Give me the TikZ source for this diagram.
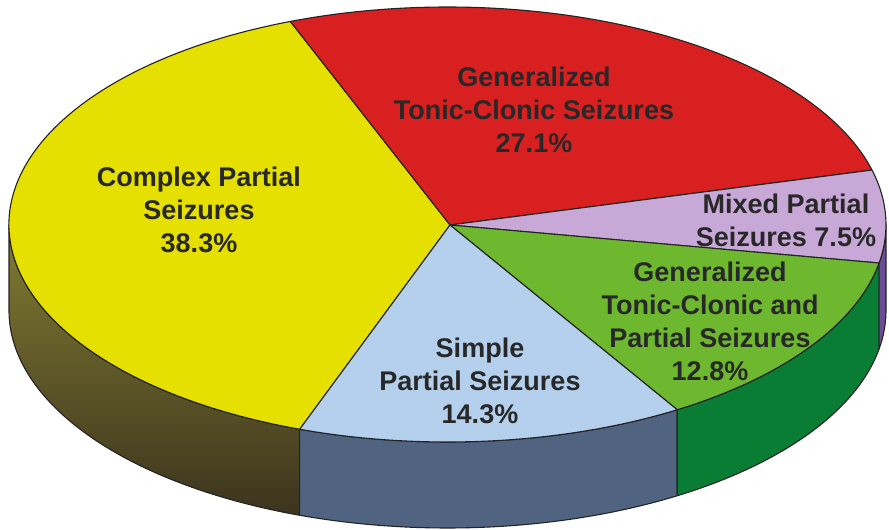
\documentclass[tikz,border=0pt]{standalone}
\usepackage{fontspec}
\setmainfont{Liberation Sans}
\definecolor{cyel}{RGB}{230,224,0}
\definecolor{cred}{RGB}{216,32,32}
\definecolor{cpur}{RGB}{200,168,214}
\definecolor{cgrn}{RGB}{110,184,48}
\definecolor{cblu}{RGB}{180,208,236}
\definecolor{sblu}{RGB}{80,100,130}
\definecolor{sgrn}{RGB}{10,125,52}
\definecolor{spur}{RGB}{108,76,150}
\definecolor{oliveT}{RGB}{130,124,50}
\definecolor{oliveB}{RGB}{60,52,30}
\definecolor{txt}{RGB}{40,40,40}
\definecolor{edgec}{RGB}{35,35,35}
\begin{document}
\begin{tikzpicture}[x=1pt,y=1pt,
  edge/.style={draw=edgec, line width=1.1pt, line join=round},
  lbl/.style={font=\fontsize{27}{33}\selectfont\bfseries, text=txt, align=center, inner sep=0pt}]
\useasboundingbox (0,0) rectangle (889,530);
\def\cx{447.5}\def\cy{305.5}\def\rx{438.5}\def\ry{217.5}\def\dd{86}
\coordinate (O) at (450,305);
\coordinate (L) at ({\cx-\rx},\cy);
\coordinate (R) at ({\cx+\rx},\cy);
\coordinate (t1) at ({\cx+\rx*cos(111)},{\cy+\ry*sin(111)});
\coordinate (t2) at ({\cx+\rx*cos(14.5)},{\cy+\ry*sin(14.5)});
\coordinate (t3) at ({\cx+\rx*cos(-10.2)},{\cy+\ry*sin(-10.2)});
\coordinate (t4) at ({\cx+\rx*cos(-58.4)},{\cy+\ry*sin(-58.4)});
\coordinate (t5) at ({\cx+\rx*cos(-109.7)},{\cy+\ry*sin(-109.7)});
% sides
\shade[top color=oliveT, bottom color=oliveB]
  (L) arc[start angle=180,end angle=250.3,x radius=\rx,y radius=\ry]
  -- ++(0,-\dd) arc[start angle=250.3,end angle=180,x radius=\rx,y radius=\ry] -- cycle;
\draw[edge]
  (L) arc[start angle=180,end angle=250.3,x radius=\rx,y radius=\ry]
  -- ++(0,-\dd) arc[start angle=250.3,end angle=180,x radius=\rx,y radius=\ry] -- cycle;
\filldraw[edge, fill=sblu]
  (t5) arc[start angle=250.3,end angle=301.6,x radius=\rx,y radius=\ry]
  -- ++(0,-\dd) arc[start angle=301.6,end angle=250.3,x radius=\rx,y radius=\ry] -- cycle;
\filldraw[edge, fill=sgrn]
  (t4) arc[start angle=301.6,end angle=349.8,x radius=\rx,y radius=\ry]
  -- ++(0,-\dd) arc[start angle=349.8,end angle=301.6,x radius=\rx,y radius=\ry] -- cycle;
\filldraw[edge, fill=spur]
  (t3) arc[start angle=349.8,end angle=360,x radius=\rx,y radius=\ry]
  -- ++(0,-\dd) arc[start angle=360,end angle=349.8,x radius=\rx,y radius=\ry] -- cycle;
% top slices
\filldraw[edge, fill=cyel] (O) -- (t1) arc[start angle=111,end angle=250.3,x radius=\rx,y radius=\ry] -- cycle;
\filldraw[edge, fill=cred] (O) -- (t2) arc[start angle=14.5,end angle=111,x radius=\rx,y radius=\ry] -- cycle;
\filldraw[edge, fill=cpur] (O) -- (t3) arc[start angle=-10.2,end angle=14.5,x radius=\rx,y radius=\ry] -- cycle;
\filldraw[edge, fill=cgrn] (O) -- (t4) arc[start angle=-58.4,end angle=-10.2,x radius=\rx,y radius=\ry] -- cycle;
\filldraw[edge, fill=cblu] (O) -- (t5) arc[start angle=-109.7,end angle=-58.4,x radius=\rx,y radius=\ry] -- cycle;
% labels
\node[lbl] (lred) at (534,420) {Generalized\\Tonic-Clonic Seizures\\27.1\%};
\node[lbl] (lyel) at (199,320) {Complex Partial\\Seizures\\38.3\%};
\node[lbl] (lpur) at (786,310) {Mixed Partial\\Seizures 7.5\%};
\node[lbl] (lgrn) at (710,209) {Generalized\\Tonic-Clonic and\\Partial Seizures\\12.8\%};
\node[lbl] (lblu) at (480,149) {Simple\\Partial Seizures\\14.3\%};
\end{tikzpicture}
\end{document}
